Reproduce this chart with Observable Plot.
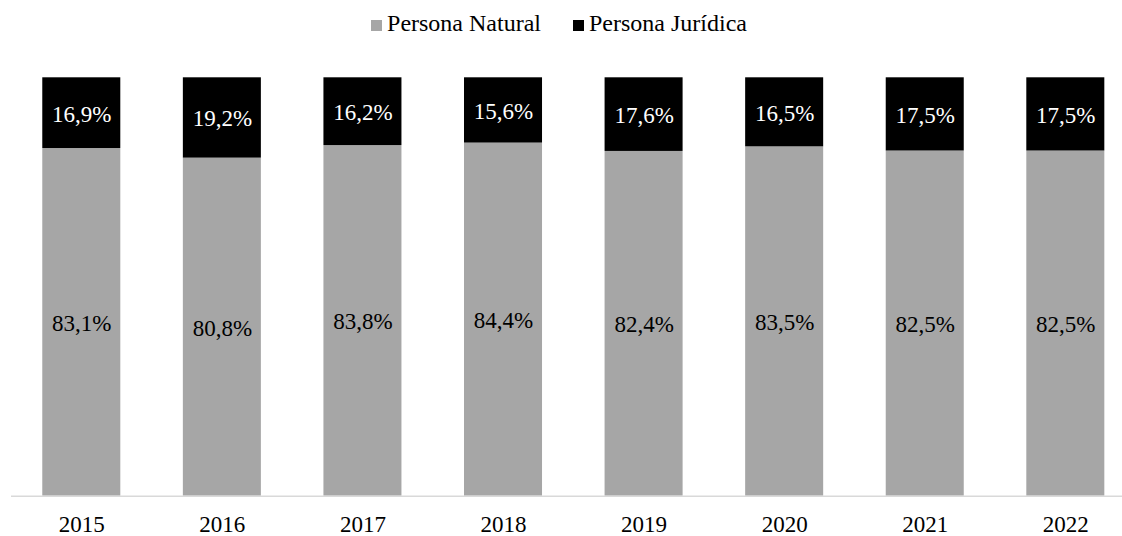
<!DOCTYPE html>
<html>
<head>
<meta charset="utf-8">
<script src="https://cdn.jsdelivr.net/npm/d3@7"></script>
<script src="https://cdn.jsdelivr.net/npm/@observablehq/plot@0.6"></script>
<style>
  html, body { margin: 0; padding: 0; background: #fff; overflow: hidden; }
  body { width: 1122px; height: 536px; font-family: "Liberation Serif", "Times New Roman", serif; }
  #legend { height: 46px; display: flex; justify-content: center; align-items: center; font-size: 24px; color: #000; font-family: "Liberation Serif", serif; padding-right: 4px; box-sizing: border-box; }
  .item { display: flex; align-items: baseline; }
  .sw { width: 11px; height: 11px; display: inline-block; margin-right: 5px; }
  .item + .item { margin-left: 32px; }
  svg { overflow: hidden; }
  svg text { font-family: "Liberation Serif", serif !important; }
</style>
</head>
<body>
<div id="legend"></div>
<div id="chart"></div>
<script>
const years = ["2015", "2016", "2017", "2018", "2019", "2020", "2021", "2022"];
const seriesNames = ["Persona Natural", "Persona Jurídica"];
const natural = [83.1, 80.8, 83.8, 84.4, 82.4, 83.5, 82.5, 82.5];
const juridica = [16.9, 19.2, 16.2, 15.6, 17.6, 16.5, 17.5, 17.5];
const colors = ["#a6a6a6", "#000000"];
const labelColors = ["#000000", "#ffffff"];

const data = [];
years.forEach((yr, i) => {
  data.push({year: yr, series: seriesNames[0], value: natural[i]});
  data.push({year: yr, series: seriesNames[1], value: juridica[i]});
});
const fmt = v => v.toFixed(1).replace(".", ",") + "%";

// Legend
const legend = document.getElementById("legend");
seriesNames.forEach((s, i) => {
  const it = document.createElement("span");
  it.className = "item";
  const sw = document.createElement("span");
  sw.className = "sw";
  sw.style.background = colors[i];
  it.appendChild(sw);
  it.appendChild(document.createTextNode(s));
  legend.appendChild(it);
});

const chart = Plot.plot({
  width: 1122,
  height: 490,
  marginTop: 31.3,
  marginBottom: 40.3,
  marginLeft: 11,
  marginRight: -13.6,
  style: {fontFamily: "'Liberation Serif', serif", overflow: "hidden"},
  x: {domain: years, paddingInner: 0.445, paddingOuter: 0.2225, round: false, label: null},
  y: {domain: [0, 100], axis: null},
  color: {domain: seriesNames, range: colors},
  marks: [
    Plot.barY(data, {x: "year", y: "value", fill: "series", order: seriesNames}),
    Plot.ruleY([0], {stroke: "#d9d9d9", strokeWidth: 1.5}),
    Plot.text(data, Plot.stackY({
      x: "year", y: "value", order: seriesNames,
      text: d => fmt(d.value),
      fill: d => labelColors[seriesNames.indexOf(d.series)],
      fontSize: 23, dy: 1, fontFamily: "Liberation Serif"
    })),
    Plot.axisX({tickSize: 0, tickPadding: 19, fontSize: 23, color: "#000", fontFamily: "Liberation Serif"})
  ]
});
document.getElementById("chart").appendChild(chart);
</script>
</body>
</html>
